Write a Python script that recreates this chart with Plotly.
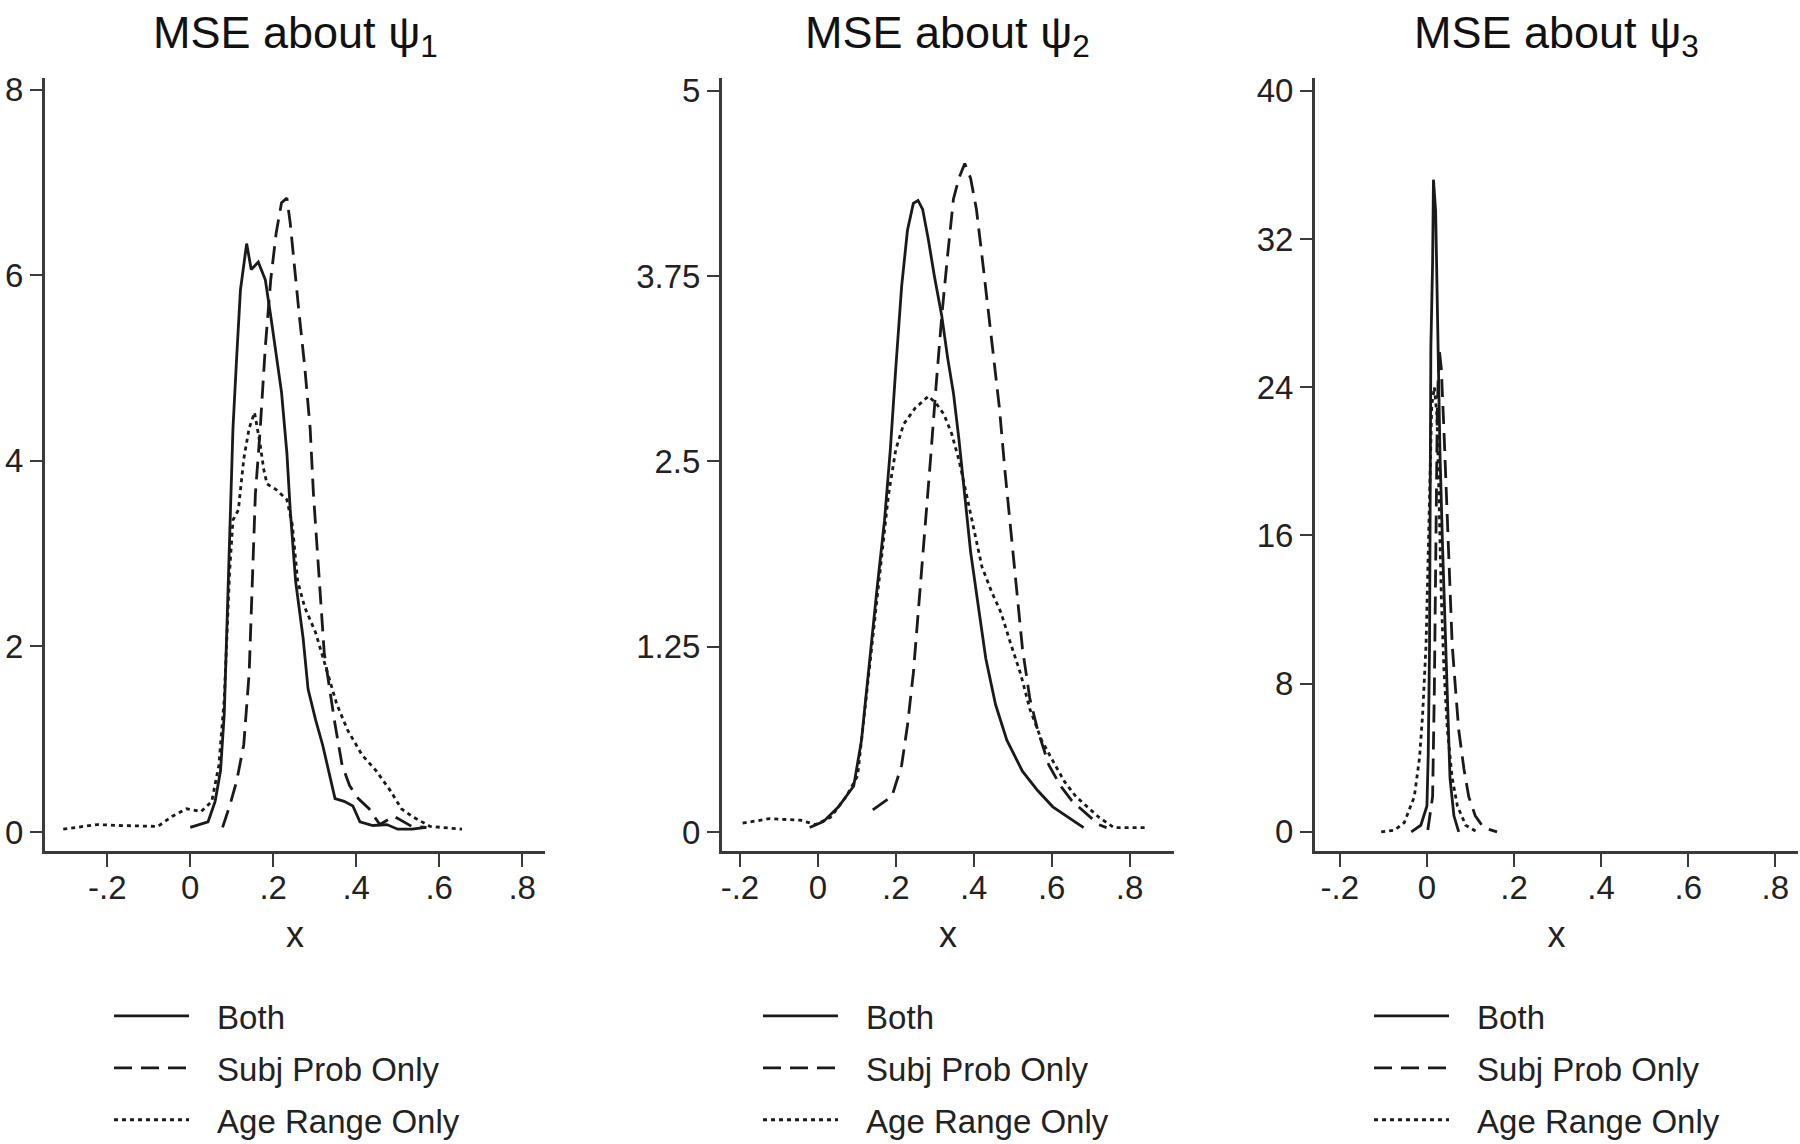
import plotly.graph_objects as go

W, H = 1800, 1144

# ---------------- data ----------------
series_names = ["Both", "Subj Prob Only", "Age Range Only"]
titles = ["MSE about \u03c8<sub>1</sub>", "MSE about \u03c8<sub>2</sub>", "MSE about \u03c8<sub>3</sub>"]

x_tickvals = [-0.2, 0, 0.2, 0.4, 0.6, 0.8]
x_ticktext = ["-.2", "0", ".2", ".4", ".6", ".8"]

y1_tickvals = [0, 2, 4, 6, 8]
y1_ticktext = ["0", "2", "4", "6", "8"]
y2_tickvals = [0, 1.25, 2.5, 3.75, 5]
y2_ticktext = ["0", "1.25", "2.5", "3.75", "5"]
y3_tickvals = [0, 8, 16, 24, 32, 40]
y3_ticktext = ["0", "8", "16", "24", "32", "40"]

# Panel 1 (psi1)
p1_both_x = [0.0, 0.043, 0.06, 0.073, 0.082, 0.088, 0.095, 0.103, 0.112, 0.121, 0.136, 0.147, 0.164, 0.181,
             0.194, 0.207, 0.22, 0.233, 0.241, 0.254, 0.272, 0.284, 0.302, 0.319, 0.336, 0.349, 0.371, 0.392,
             0.409, 0.44, 0.474, 0.5, 0.534, 0.569]
p1_both_y = [0.05, 0.11, 0.33, 0.66, 1.27, 2.15, 3.36, 4.35, 5.12, 5.84, 6.34, 6.06, 6.14, 5.95,
             5.56, 5.12, 4.74, 4.08, 3.47, 2.70, 2.09, 1.54, 1.21, 0.94, 0.61, 0.36, 0.33, 0.28,
             0.11, 0.07, 0.08, 0.03, 0.03, 0.05]
p1_subj_x = [0.078, 0.095, 0.112, 0.129, 0.142, 0.151, 0.157, 0.168, 0.181, 0.194, 0.207, 0.22, 0.233, 0.241,
             0.25, 0.263, 0.276, 0.289, 0.297, 0.306, 0.315, 0.323, 0.336, 0.349, 0.366, 0.384, 0.405, 0.431,
             0.457, 0.491, 0.534, 0.569]
p1_subj_y = [0.05, 0.28, 0.55, 0.94, 1.71, 2.81, 3.64, 4.30, 5.23, 5.95, 6.45, 6.78, 6.83, 6.56,
             6.12, 5.56, 5.01, 4.35, 3.64, 3.03, 2.37, 1.93, 1.54, 1.16, 0.72, 0.50, 0.36, 0.25,
             0.08, 0.17, 0.06, 0.05]
p1_age_x = [-0.306, -0.224, -0.172, -0.078, -0.043, -0.009, 0.026, 0.052, 0.069, 0.082, 0.095, 0.103, 0.116,
            0.129, 0.142, 0.155, 0.168, 0.177, 0.185, 0.207, 0.233, 0.246, 0.259, 0.276, 0.302, 0.328, 0.353,
            0.379, 0.414, 0.448, 0.483, 0.509, 0.534, 0.578, 0.655]
p1_age_y = [0.03, 0.08, 0.07, 0.06, 0.17, 0.25, 0.22, 0.33, 0.72, 1.43, 2.81, 3.36, 3.47,
            4.02, 4.35, 4.52, 4.19, 3.91, 3.75, 3.69, 3.58, 3.31, 2.70, 2.42, 2.15, 1.76, 1.38,
            1.10, 0.83, 0.66, 0.44, 0.25, 0.17, 0.06, 0.03]

# Panel 2 (psi2)
p2_both_x = [-0.021, 0.014, 0.053, 0.092, 0.112, 0.132, 0.151, 0.171, 0.186, 0.2, 0.215, 0.23, 0.245, 0.257,
             0.269, 0.284, 0.299, 0.318, 0.333, 0.348, 0.362, 0.377, 0.392, 0.412, 0.431, 0.456, 0.485, 0.525,
             0.564, 0.603, 0.642, 0.682]
p2_both_y = [0.03, 0.07, 0.17, 0.31, 0.62, 1.14, 1.62, 2.10, 2.58, 3.13, 3.68, 4.06, 4.24, 4.26,
             4.20, 3.99, 3.75, 3.48, 3.20, 2.96, 2.65, 2.27, 1.89, 1.52, 1.17, 0.86, 0.62, 0.41,
             0.28, 0.17, 0.10, 0.03]
p2_subj_x = [0.141, 0.19, 0.215, 0.23, 0.245, 0.259, 0.274, 0.289, 0.304, 0.318, 0.333, 0.348, 0.362, 0.377,
             0.392, 0.407, 0.421, 0.436, 0.451, 0.466, 0.48, 0.495, 0.51, 0.525, 0.544, 0.564, 0.593, 0.623,
             0.652, 0.682, 0.721, 0.741]
p2_subj_y = [0.15, 0.24, 0.45, 0.72, 1.07, 1.52, 2.0, 2.51, 3.03, 3.48, 3.89, 4.27, 4.41, 4.51,
             4.41, 4.20, 3.89, 3.55, 3.24, 2.86, 2.44, 2.03, 1.62, 1.24, 0.90, 0.69, 0.45, 0.31,
             0.21, 0.14, 0.05, 0.03]
p2_age_x = [-0.193, -0.124, -0.045, -0.006, 0.033, 0.073, 0.102, 0.122, 0.141, 0.161, 0.181, 0.2, 0.22, 0.25,
            0.284, 0.304, 0.323, 0.343, 0.362, 0.382, 0.402, 0.421, 0.446, 0.47, 0.495, 0.52, 0.544, 0.574,
            0.603, 0.633, 0.662, 0.692, 0.721, 0.76, 0.839]
p2_age_y = [0.06, 0.09, 0.08, 0.05, 0.10, 0.24, 0.38, 0.86, 1.34, 1.83, 2.27, 2.58, 2.75, 2.86,
            2.94, 2.89, 2.82, 2.69, 2.51, 2.27, 2.03, 1.79, 1.62, 1.48, 1.27, 1.07, 0.83, 0.62,
            0.48, 0.34, 0.24, 0.17, 0.10, 0.03, 0.03]

# Panel 3 (psi3)
p3_both_x = [-0.036, -0.014, 0.0, 0.003, 0.006, 0.008, 0.009, 0.013, 0.015, 0.02, 0.026, 0.03, 0.036, 0.041,
             0.047, 0.053, 0.062, 0.073]
p3_both_y = [0.0, 0.36, 1.4, 4.2, 10.1, 20.4, 26.1, 30.7, 35.2, 33.5, 26.1, 20.4, 15.3, 11.4,
             6.3, 2.9, 0.87, 0.0]
p3_subj_x = [0.002, 0.013, 0.017, 0.02, 0.024, 0.028, 0.033, 0.039, 0.045, 0.051, 0.058, 0.066, 0.073, 0.085,
             0.096, 0.111, 0.13, 0.161]
p3_subj_y = [0.1, 1.9, 7.6, 15.3, 23.0, 26.1, 25.0, 21.7, 17.8, 14.0, 10.1, 7.6, 5.5, 3.4,
             1.9, 0.87, 0.23, 0.0]
p3_age_x = [-0.105, -0.074, -0.052, -0.029, -0.017, -0.01, -0.002, 0.005, 0.011, 0.017, 0.023, 0.028, 0.033,
            0.039, 0.047, 0.058, 0.07, 0.089, 0.115]
p3_age_y = [0.0, 0.1, 0.5, 1.9, 4.0, 6.3, 10.1, 16.6, 23.0, 24.0, 22.5, 17.8, 12.7,
            8.8, 5.5, 2.9, 1.4, 0.36, 0.0]

# ---------------- figure ----------------
FONT = "Liberation Sans, Arial, sans-serif"
INK = "#1a1a1a"
AXC = "#3a3a3a"
dash_styles = ["solid", "18px,9px", "4px,4px"]


def px_x(px):
    return px / W


def px_y(py):
    return 1 - py / H


panels = [
    dict(data=[(p1_both_x, p1_both_y), (p1_subj_x, p1_subj_y), (p1_age_x, p1_age_y)],
         xdom=(45, 545), xr=(-0.35, 0.855), yr=(-0.205, 8.124), yt=(y1_tickvals, y1_ticktext)),
    dict(data=[(p2_both_x, p2_both_y), (p2_subj_x, p2_subj_y), (p2_age_x, p2_age_y)],
         xdom=(722, 1174), xr=(-0.246, 0.914), yr=(-0.128, 5.086), yt=(y2_tickvals, y2_ticktext)),
    dict(data=[(p3_both_x, p3_both_y), (p3_subj_x, p3_subj_y), (p3_age_x, p3_age_y)],
         xdom=(1315, 1798), xr=(-0.257, 0.852), yr=(-1.03, 40.69), yt=(y3_tickvals, y3_ticktext)),
]

fig = go.Figure()
ydom = (px_y(851), px_y(78))
legend_x_px = [109, 758, 1369]
PAD = "\u2002\u2009"

for i, p in enumerate(panels):
    k = "" if i == 0 else str(i + 1)
    leg = "legend" if i == 0 else f"legend{i + 1}"
    for j, (xs, ys) in enumerate(p["data"]):
        fig.add_trace(go.Scatter(
            x=xs, y=ys, mode="lines", name=PAD + series_names[j],
            line=dict(color=INK, width=2.8, dash=dash_styles[j]),
            xaxis="x" + k, yaxis="y" + k, legend=leg, legendgroup=f"g{i}{j}",
            showlegend=True,
        ))
    axcommon = dict(showline=True, linecolor=AXC, linewidth=3, ticks="outside", tickcolor=AXC,
                    tickwidth=2, showgrid=False, zeroline=False, automargin=False,
                    tickfont=dict(family=FONT, size=33, color="#222"))
    fig.update_layout(**{
        "xaxis" + k: dict(domain=[px_x(p["xdom"][0]), px_x(p["xdom"][1])], range=list(p["xr"]),
                          anchor="y" + k, tickvals=x_tickvals, ticktext=x_ticktext, ticklen=13,
                          ticklabelstandoff=-8,
                          title=dict(text="x", font=dict(family=FONT, size=36, color="#222"), standoff=18),
                          **axcommon),
        "yaxis" + k: dict(domain=list(ydom), range=list(p["yr"]), anchor="x" + k,
                          tickvals=p["yt"][0], ticktext=p["yt"][1], ticklen=12, **axcommon),
        leg: dict(x=px_x(legend_x_px[i]), y=px_y(988), xanchor="left", yanchor="top",
                  font=dict(family=FONT, size=33, color="#222"), bgcolor="rgba(0,0,0,0)",
                  tracegroupgap=6, itemwidth=75, traceorder="grouped"),
    })
    fig.add_annotation(text=titles[i], x=px_x(sum(p["xdom"]) / 2), y=px_y(36), xref="paper", yref="paper",
                       showarrow=False, xanchor="center", yanchor="middle",
                       font=dict(family=FONT, size=45, color="#111"))

fig.update_layout(width=W, height=H, margin=dict(l=0, r=0, t=0, b=0, autoexpand=False), autosize=False,
                  paper_bgcolor="white", plot_bgcolor="white")
fig.write_html("out.html", config={"displayModeBar": False},
               post_script="document.body.style.margin='0';")
